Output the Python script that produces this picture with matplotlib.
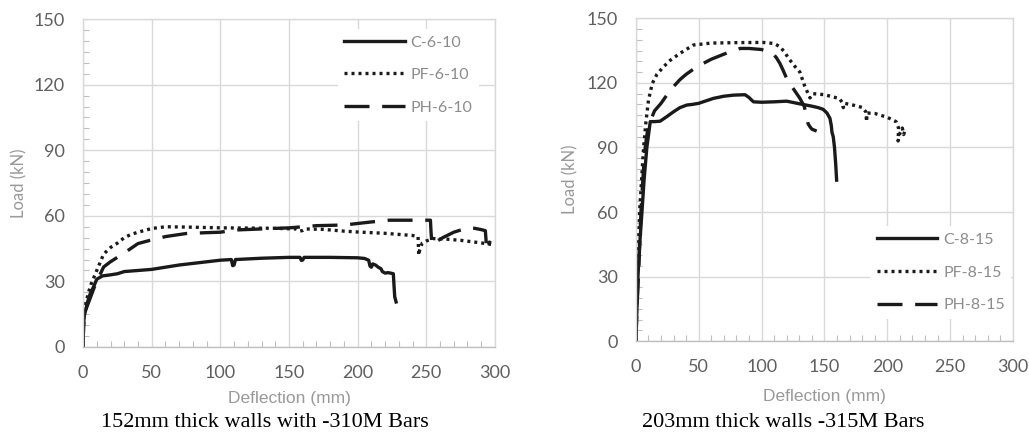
import matplotlib.pyplot as plt
from matplotlib.ticker import MultipleLocator

plt.rcParams['font.family'] = ['Lato', 'DejaVu Sans']

# 152mm walls (left panel)
c610_x = [0, 0.3, 0.8, 2, 3, 5, 8, 10, 14, 20, 25, 30, 40, 50, 70, 100, 108, 109, 110, 111, 130, 150, 158, 159, 160, 161, 180, 200,
          205, 208, 209, 210, 211, 213, 215, 217, 218, 220, 222, 224, 226, 226.5, 227, 228]
c610_y = [0, 8, 14, 17, 20, 24, 28, 31, 32.5, 33, 33.5, 34.5, 35, 35.5, 37.5, 39.7, 40, 37.2, 37.5, 40, 40.6, 41, 41, 39.6, 39.8, 41, 41, 40.8,
          40.5, 39.7, 37, 36.5, 38, 37.5, 36.5, 35.8, 34.5, 33.8, 34, 33.8, 33.5, 28, 23, 20.6]
pf610_x = [0, 0.4, 1, 2, 4, 6, 10, 15, 20, 25, 30, 35, 40, 50, 60, 80, 100, 120, 140, 155, 158, 160, 162, 175, 190, 200, 220, 240,
           244, 244.5, 245, 247, 250, 255, 265, 275, 285, 295, 300]
pf610_y = [0, 12, 17, 20, 25, 29, 35, 42.5, 45.5, 47.5, 50, 51.5, 52.5, 54.2, 55, 54.8, 54.5, 54.4, 54.3, 54, 53, 53.3, 54, 53.8, 53, 52.6, 52, 51,
           50.5, 42, 44, 47.5, 48.5, 49.6, 49.3, 48.8, 48, 47.2, 46.5]
ph610_x = [0, 0.4, 1, 2, 5, 8, 10, 15, 20, 25, 30, 40, 50, 60, 75, 90, 100, 110, 130, 150, 170, 190, 200, 210, 223, 240, 253, 253.5, 254, 255,
           258, 262, 270, 280, 285, 290, 293, 293.5, 294, 295, 296, 297]
ph610_y = [0, 10, 14, 17, 22, 27, 30, 36.6, 39, 41, 43, 47.3, 49, 50.5, 51.9, 52.3, 52.5, 53.5, 54, 54.5, 55.5, 55.8, 56.5, 57.2, 58, 58, 58, 52, 48, 46.5,
           48.5, 50, 52.5, 54.5, 54.3, 53.7, 53.2, 49, 44.3, 46, 48, 47.5]

# 203mm walls (right panel)
c815_x = [0, 0.8, 1.6, 3, 4.8, 6.5, 8.7, 10.5, 11.4, 15, 19.3, 25, 30, 35, 40.5, 45, 50, 55, 61.7, 70, 77.6, 86.8, 90, 93.5, 100, 110, 120,
          130, 139.8, 145, 149, 152, 154.4, 155.5, 156, 157, 158, 159, 159.7]
c815_y = [0, 15, 29.8, 45, 60, 75, 90, 98, 102, 102, 102.2, 104.5, 106.6, 108.5, 109.7, 110, 110.5, 111.5, 112.8, 113.8, 114.3, 114.5, 113.2, 111.2, 111,
          111.2, 111.5, 110.3, 109.2, 108.5, 107.7, 106, 103.5, 100, 97, 95, 90, 82, 74.8]
pf815_x = [0, 0.5, 1, 2, 2.9, 4.5, 6.1, 8, 10, 13, 16.7, 22, 27.3, 35, 45.8, 60, 80, 101, 110, 114.6, 118, 122, 126, 130.5, 134, 138.5, 141,
           150, 162, 164, 165, 166, 172, 180, 183, 183.5, 184, 190, 200, 207, 209, 208.6, 210, 212, 213, 214]
pf815_y = [0, 15, 30, 45, 60, 75, 90, 102, 112, 119.7, 124, 127.5, 130.5, 133.7, 137.6, 138.5, 138.7, 138.8, 138.3, 136.8, 134.5, 131, 128, 125, 119, 113, 115,
           114.5, 112.7, 111, 108.5, 110.5, 109.8, 108.6, 106.5, 102, 106, 105.8, 104, 102, 99, 93, 96.5, 99, 96, 97.5]
ph815_x = [0, 0.8, 2, 3, 4, 5.5, 7, 8.5, 10, 12, 14.8, 20, 27.3, 35, 40, 48.5, 60, 75, 82.9, 90, 100, 109, 112, 114.6, 117, 120, 125, 130.5,
           134, 135.5, 137, 138.5, 140, 143.8]
ph815_y = [0, 15, 30, 45, 60, 75, 88, 95, 100, 103, 107, 110.5, 116.6, 121.5, 124, 127.5, 131, 134.5, 136, 136, 135.5, 133.7, 131.5, 129, 126, 122, 117.5, 112.8,
           109, 105, 101, 99.6, 98.5, 97.6]

captions = ['152mm thick walls with -310M Bars', '203mm thick walls -315M Bars']
labels_left = ['C-6-10', 'PF-6-10', 'PH-6-10']
labels_right = ['C-8-15', 'PF-8-15', 'PH-8-15']

fig = plt.figure(figsize=(10.29, 4.34), dpi=100)
ax1 = fig.add_axes([0.0807, 0.2005, 0.4003, 0.7555])
ax2 = fig.add_axes([0.618, 0.214, 0.3664, 0.7438])

grid_c = '#d9d9d9'
lw = 2.4


def style_axes(ax, lbl_x, lbl_y):
    ax.set_xlim(0, 300)
    ax.set_ylim(0, 150)
    ax.xaxis.set_major_locator(MultipleLocator(50))
    ax.yaxis.set_major_locator(MultipleLocator(30))
    ax.xaxis.set_minor_locator(MultipleLocator(10))
    ax.yaxis.set_minor_locator(MultipleLocator(5))
    ax.grid(True, which='major', color=grid_c, lw=1)
    ax.set_axisbelow(True)
    for s in ax.spines.values():
        s.set_color(grid_c)
        s.set_linewidth(1)
    ax.spines['bottom'].set_color('#bfbfbf')
    ax.tick_params(which='major', length=0, labelsize=13, labelcolor='#5f5f5f', pad=13)
    ax.tick_params(which='minor', direction='in', length=4, color='#bfbfbf', width=0.8)
    ax.set_xlabel('Deflection (mm)', fontsize=12.5, color='#999999', family=['Liberation Sans'])
    ax.set_ylabel('Load (kN)', fontsize=12, color='#999999')
    ax.xaxis.set_label_coords(0.5, lbl_x)
    ax.yaxis.set_label_coords(lbl_y, 0.5)


def draw(ax, xs, ys, labels):
    ax.plot(xs[0], ys[0], color='#1a1a1a', lw=lw, label=labels[0])
    ax.plot(xs[1], ys[1], color='#1a1a1a', lw=lw, dashes=(0.9, 1.2), label=labels[1])
    ax.plot(xs[2], ys[2], color='#1a1a1a', lw=lw, dashes=(7.5, 3.8), label=labels[2])


style_axes(ax1, -0.135, -0.136)
style_axes(ax2, -0.147, -0.153)
draw(ax1, [c610_x, pf610_x, ph610_x], [c610_y, pf610_y, ph610_y], labels_left)
draw(ax2, [c815_x, pf815_x, ph815_x], [c815_y, pf815_y, ph815_y], labels_right)

leg_kw = dict(fontsize=11.5, labelcolor='#8c8c8c', handlelength=3.8, handletextpad=0.35,
              labelspacing=1.15, frameon=True, facecolor='white', edgecolor='none', framealpha=1,
              borderaxespad=0, borderpad=0.4, fancybox=False)
ax1.legend(loc='upper right', bbox_to_anchor=(0.961, 0.97), **leg_kw)
ax2.legend(loc='lower right', bbox_to_anchor=(0.995, 0.07), **leg_kw)

fig.text(0.2575, 0.016, captions[0], ha='center', va='baseline', fontsize=16, family='Liberation Serif')
fig.text(0.761, 0.016, captions[1], ha='center', va='baseline', fontsize=16, family='Liberation Serif')

fig.savefig('out.png', dpi=100)
